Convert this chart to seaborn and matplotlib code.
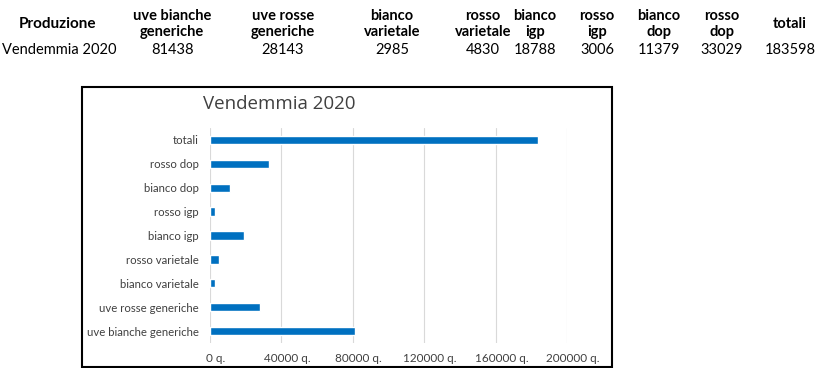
import matplotlib
matplotlib.use("Agg")
import matplotlib.pyplot as plt
import matplotlib.patches as patches
import matplotlib.transforms as mtransforms
from matplotlib.ticker import FuncFormatter
import pandas as pd
import seaborn as sns

# data
HEADERS = ["uve bianche\ngeneriche", "uve rosse\ngeneriche", "bianco\nvarietale",
           "rosso\nvarietale", "bianco\nigp", "rosso\nigp", "bianco\ndop",
           "rosso\ndop", "totali"]
CATEGORIES = ["uve bianche generiche", "uve rosse generiche", "bianco varietale",
              "rosso varietale", "bianco igp", "rosso igp", "bianco dop",
              "rosso dop", "totali"]
VALUES = [81438, 28143, 2985, 4830, 18788, 3006, 11379, 33029, 183598]
X_TICKS = [0, 40000, 80000, 120000, 160000, 200000]

W, H = 832, 368
BLUE = "#0070C0"
TEXT = "#404040"

sns.set_theme(style="white")
plt.rcParams["font.family"] = ["Lato", "DejaVu Sans"]

fig = plt.figure(figsize=(W / 100, H / 100), dpi=100)

# table on top
col_x = [172, 283, 392, 483, 535, 597, 659, 722, 790]
fig.text(58 / W, 1 - 24 / H, "Produzione", ha="center", va="center",
         fontsize=11, fontweight="bold", color="black")
fig.text(2 / W, 1 - 50 / H, "Vendemmia 2020", ha="left", va="center",
         fontsize=10.5, color="black")
for x, head, val in zip(col_x, HEADERS, VALUES):
    fig.text(x / W, 1 - 24 / H, head, ha="center", va="center", fontsize=10.5,
             fontweight="bold", color="black", linespacing=1.1)
    fig.text(x / W, 1 - 50 / H, str(val), ha="center", va="center",
             fontsize=10.5, color="black")

# chart frame
fig.patches.append(patches.Rectangle((82 / W, 1 / H), 530 / W, 280 / H,
                                     transform=fig.transFigure, fill=False,
                                     edgecolor="black", linewidth=1.5))

ax = fig.add_axes([210 / W, 1 - 343 / H, 357 / W, 215 / H])
df = pd.DataFrame({"categoria": CATEGORIES[::-1], "valore": VALUES[::-1]})
sns.barplot(data=df, x="valore", y="categoria", color=BLUE, width=0.35,
            saturation=1, ax=ax)

ax.set_xlim(0, 200000)
ax.set_xticks(X_TICKS)
ax.xaxis.set_major_formatter(FuncFormatter(lambda v, p: f"{v:.0f} q."))
ax.grid(axis="x", color="#d9d9d9", linewidth=0.8)
ax.set_axisbelow(True)
for s in ax.spines.values():
    s.set_visible(False)
ax.set_xlabel("")
ax.set_ylabel("")
ax.tick_params(axis="x", length=0, pad=7, labelsize=8.5, labelcolor=TEXT)
ax.tick_params(axis="y", length=0, pad=8, labelsize=8.2, labelcolor=TEXT)

# x labels sit a bit right of their gridlines
shift = mtransforms.ScaledTranslation(6 / 100, 0, fig.dpi_scale_trans)
for lab in ax.get_xticklabels():
    lab.set_transform(lab.get_transform() + shift)

fig.text(203 / W, 1 - 104 / H, "Vendemmia 2020", ha="left", va="center",
         fontsize=13.5, color=TEXT, family=["Open Sans", "DejaVu Sans"])

fig.savefig("out.png", dpi=100)
